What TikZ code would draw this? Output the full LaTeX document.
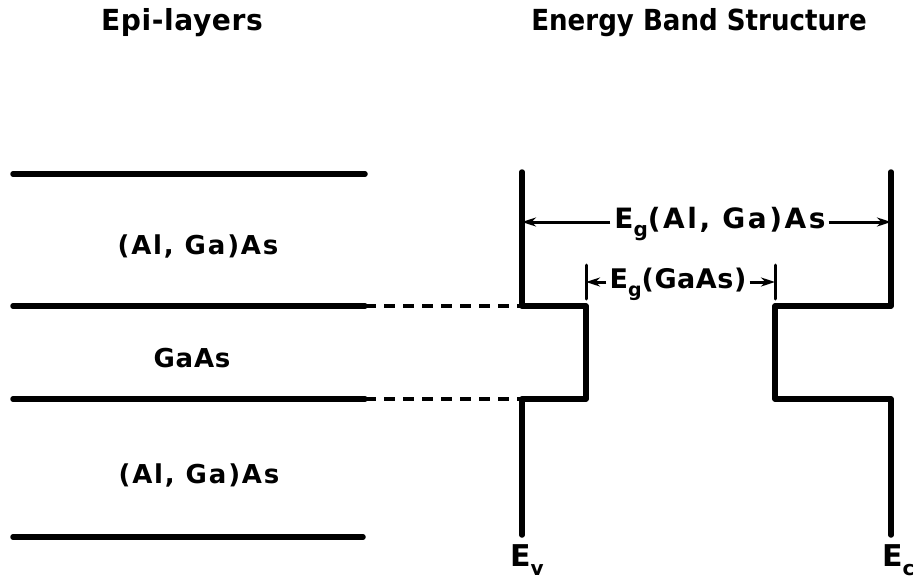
\documentclass[tikz,border=0pt]{standalone}
\usepackage{fontspec}
\setmainfont{DejaVu Sans}
\usetikzlibrary{arrows.meta}
\tikzset{
  layer/.style={line width=5.5pt, line cap=round},
  link/.style={line width=4.5pt, dash pattern=on 11pt off 8pt},
  band/.style={line width=5.5pt, line cap=round, line join=round},
  gap/.style={line width=3pt, -{Stealth[length=14pt,width=9pt]}},
  tick/.style={line width=3pt, line cap=round},
  lbl/.style={inner sep=0pt, font=\bfseries},
}
\begin{document}
\begin{tikzpicture}[x=1pt,y=-1pt]
\useasboundingbox (0,0) rectangle (919,581);
% titles
\node[lbl, font=\bfseries\fontsize{29}{32}\selectfont\addfontfeature{LetterSpace=2}] (t1) at (182,23) {\scalebox{0.97}[1]{Epi-layers}};
\node[lbl, font=\bfseries\fontsize{29}{32}\selectfont] (t2) at (699,23) {\scalebox{0.9}[1]{Energy Band Structure}};
% epi-layer lines
\coordinate (l1a) at (13,174); \coordinate (l1b) at (365,174);
\coordinate (l2a) at (13,306); \coordinate (l2b) at (365,306);
\coordinate (l3a) at (13,399); \coordinate (l3b) at (365,399);
\coordinate (l4a) at (13,537); \coordinate (l4b) at (363,537);
\draw[layer] (l1a) -- (l1b);
\draw[layer] (l2a) -- (l2b);
\draw[layer] (l3a) -- (l3b);
\draw[layer] (l4a) -- (l4b);
\node[lbl, font=\bfseries\fontsize{26}{28}\selectfont\addfontfeature{LetterSpace=7}] (la) at (198,246) {(Al, Ga)As};
\node[lbl, font=\bfseries\fontsize{26}{28}\selectfont\addfontfeature{LetterSpace=3}] (lb) at (192,358) {GaAs};
\node[lbl, font=\bfseries\fontsize{26}{28}\selectfont\addfontfeature{LetterSpace=7}] (lc) at (199,475) {(Al, Ga)As};
% band structure
\coordinate (v0) at (522,172); \coordinate (v1) at (522,306); \coordinate (v2) at (586,306);
\coordinate (v3) at (586,399); \coordinate (v4) at (522,399); \coordinate (v5) at (522,535);
\coordinate (c0) at (891,172); \coordinate (c1) at (891,306); \coordinate (c2) at (775,306);
\coordinate (c3) at (775,399); \coordinate (c4) at (891,399); \coordinate (c5) at (891,535);
\draw[band] (v0) -- (v1) -- (v2) -- (v3) -- (v4) -- (v5);
\draw[band] (c0) -- (c1) -- (c2) -- (c3) -- (c4) -- (c5);
\draw[link] (l2b) -- (v1);
\draw[link] (l3b) -- (v4);
% gaps
\node[lbl, font=\bfseries\fontsize{28}{30}\selectfont\addfontfeature{LetterSpace=9}] (eg1) at (720,224) {E\raisebox{-0.3em}{\fontsize{20}{20}\selectfont g}(Al, Ga)As};
\coordinate (g1l) at (522,222); \coordinate (g1r) at (891,222);
\draw[gap] (eg1.west |- g1l) ++(-4,0) -- (g1l);
\draw[gap] (eg1.east |- g1r) ++(3,0) -- (g1r);
\coordinate (k1t) at (586,265); \coordinate (k1b) at (586,299);
\coordinate (k2t) at (775,265); \coordinate (k2b) at (775,299);
\draw[tick] (k1t) -- (k1b);
\draw[tick] (k2t) -- (k2b);
\node[lbl, font=\bfseries\fontsize{27}{30}\selectfont\addfontfeature{LetterSpace=2}] (eg2) at (678,284) {E\raisebox{-0.3em}{\fontsize{19}{20}\selectfont g}(GaAs)};
\coordinate (g2l) at (586,282); \coordinate (g2r) at (775,282);
\draw[gap] (eg2.west |- g2l) ++(-3,0) -- (g2l);
\draw[gap] (eg2.east |- g2r) ++(3,0) -- (g2r);
% band labels
\node[lbl, anchor=west, font=\bfseries\fontsize{30}{32}\selectfont] (ev) at (510,560) {E\raisebox{-0.3em}{\fontsize{20}{20}\selectfont v}};
\node[lbl, anchor=west, font=\bfseries\fontsize{30}{32}\selectfont] (ec) at (882,560) {E\raisebox{-0.3em}{\fontsize{20}{20}\selectfont c}};
\end{tikzpicture}
\end{document}
